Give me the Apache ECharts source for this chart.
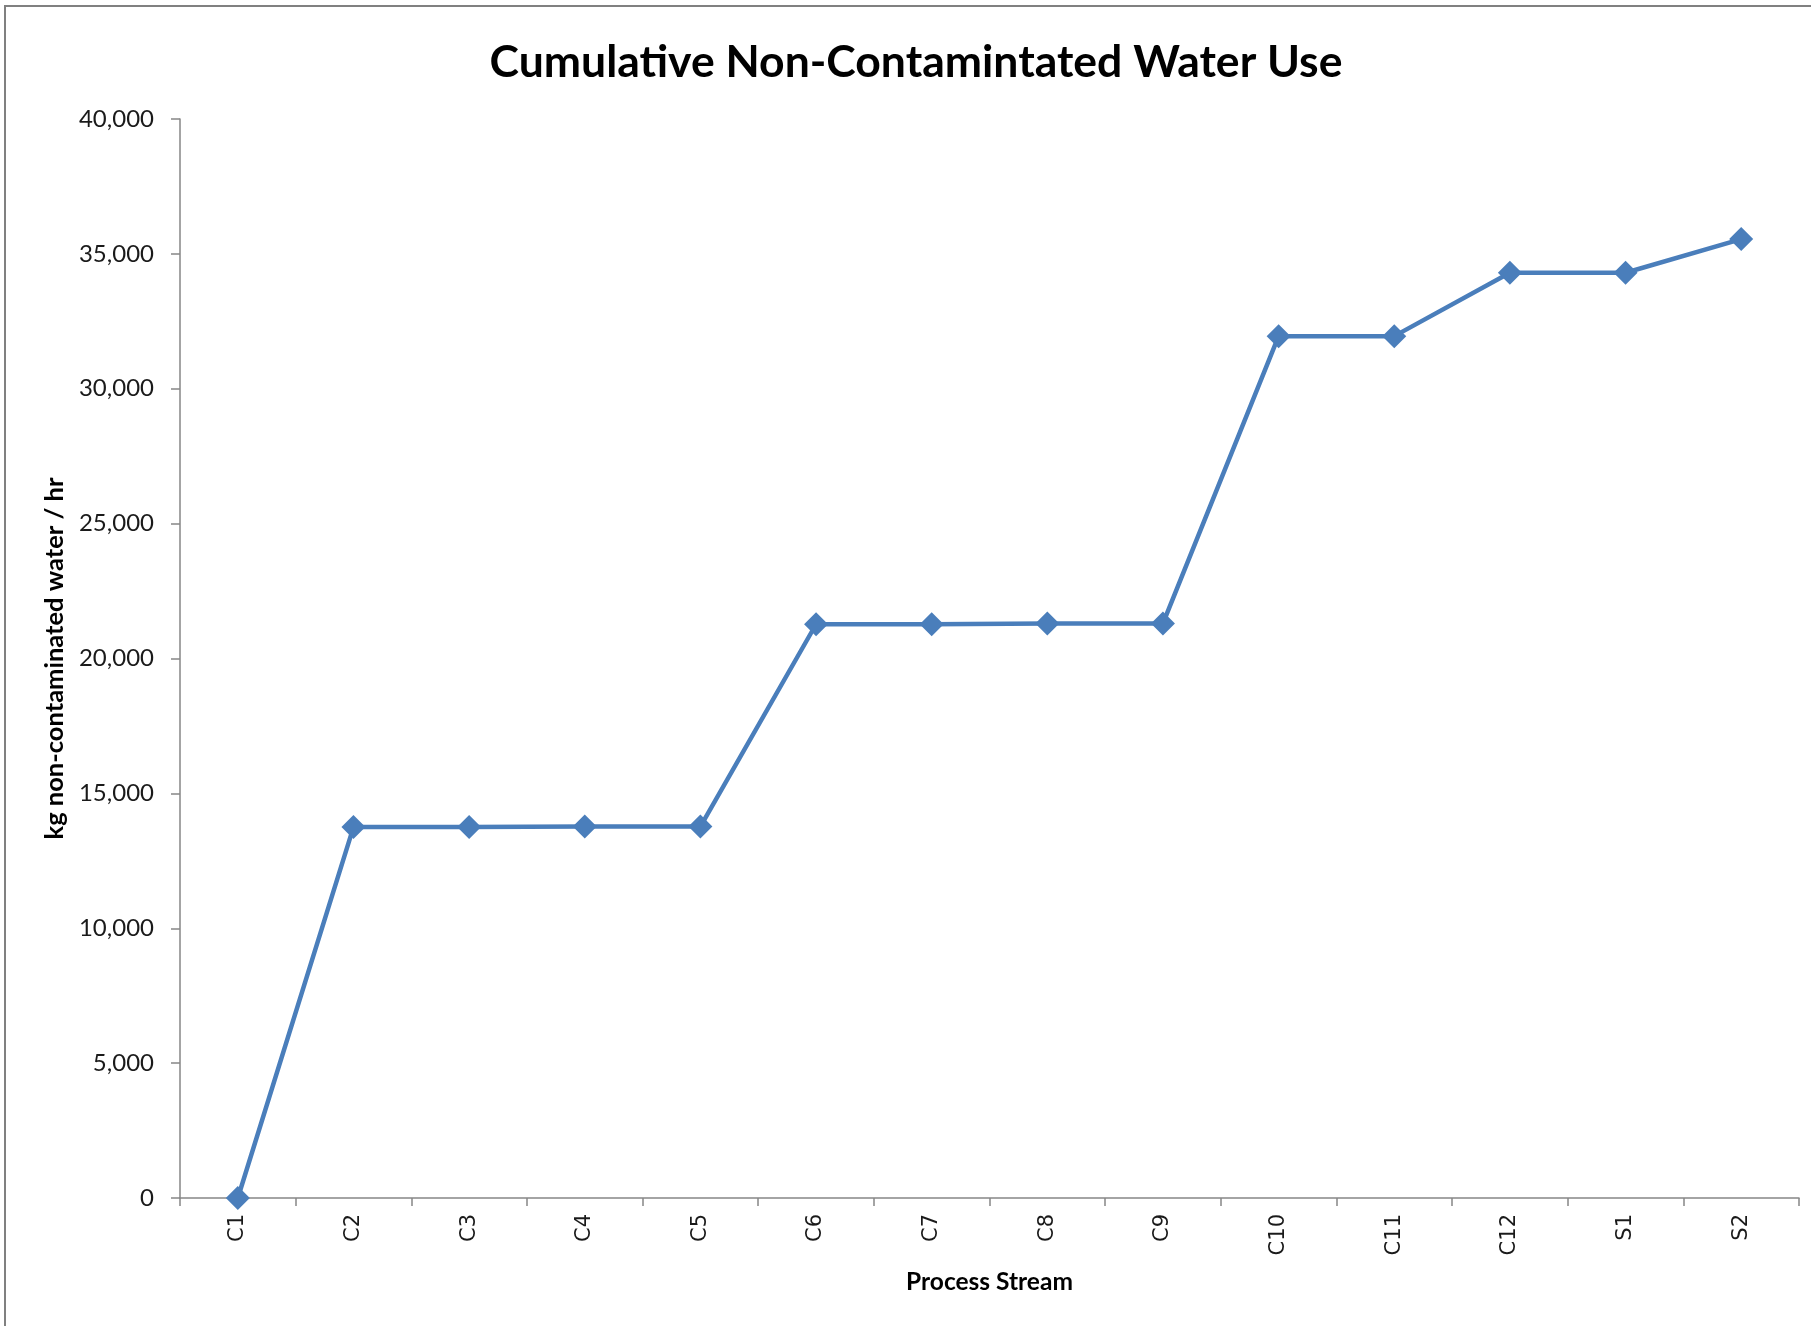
<!DOCTYPE html>
<html>
<head>
<meta charset="utf-8">
<script src="https://cdn.jsdelivr.net/npm/echarts@6/dist/echarts.min.js"></script>
<style>
html,body{margin:0;padding:0;background:#fff;}
#chart{width:1811px;height:1326px;}
</style>
</head>
<body>
<div id="chart"></div>
<script>
const categories = ['C1','C2','C3','C4','C5','C6','C7','C8','C9','C10','C11','C12','S1','S2'];
const cumulativeWater = [0, 13750, 13750, 13770, 13770, 21270, 21270, 21300, 21300, 31950, 31950, 34300, 34300, 35550];
const yTicks = { min: 0, max: 40000, interval: 5000 };

const chart = echarts.init(document.getElementById('chart'), null, {renderer: 'canvas'});
const axisColor = '#868686';
chart.setOption({
  backgroundColor: '#ffffff',
  animation: false,
  title: {
    text: 'Cumulative Non-Contamintated Water Use',
    left: 911, top: 58, textAlign: 'center', textVerticalAlign: 'middle',
    textStyle: {fontFamily: 'Lato', fontWeight: 'bold', fontSize: 44.5, color: '#000'}
  },
  graphic: [{
    type: 'rect', shape: {x: 5, y: 6, width: 2000, height: 2000},
    style: {fill: 'none', stroke: '#808080', lineWidth: 2}, silent: true
  }],
  grid: {left: 180, right: 12, top: 119, bottom: 128, containLabel: false},
  xAxis: {
    type: 'category', data: categories, boundaryGap: true,
    name: 'Process Stream', nameLocation: 'middle', nameGap: 72,
    nameTextStyle: {fontFamily: 'Lato', fontWeight: 'bold', fontSize: 24.5, color: '#000'},
    axisLine: {lineStyle: {color: axisColor, width: 1.5}},
    axisTick: {show: true, inside: false, length: 8, alignWithLabel: false, lineStyle: {color: axisColor, width: 1.5}},
    axisLabel: {rotate: 90, margin: 16, fontFamily: 'DejaVu Sans', fontSize: 21, color: '#1a1a1a', interval: 0},
    splitLine: {show: false}
  },
  yAxis: {
    type: 'value', min: yTicks.min, max: yTicks.max, interval: yTicks.interval,
    name: 'kg non-contaminated water / hr', nameLocation: 'middle', nameGap: 111, nameRotate: 90,
    nameTextStyle: {fontFamily: 'Lato', fontWeight: 'bold', fontSize: 25.5, color: '#000'},
    axisLine: {show: true, lineStyle: {color: axisColor, width: 1.5}},
    axisTick: {show: true, inside: false, length: 9, lineStyle: {color: axisColor, width: 1.5}},
    axisLabel: {margin: 26, fontFamily: 'Lato', fontSize: 24, color: '#1a1a1a',
      formatter: v => v.toLocaleString('en-US')},
    splitLine: {show: false}
  },
  series: [{
    type: 'line', data: cumulativeWater,
    symbol: 'diamond', symbolSize: 24,
    lineStyle: {color: '#4a7ebb', width: 4.5},
    itemStyle: {color: '#4a7ebb'},
    z: 3
  }]
});
</script>
</body>
</html>
